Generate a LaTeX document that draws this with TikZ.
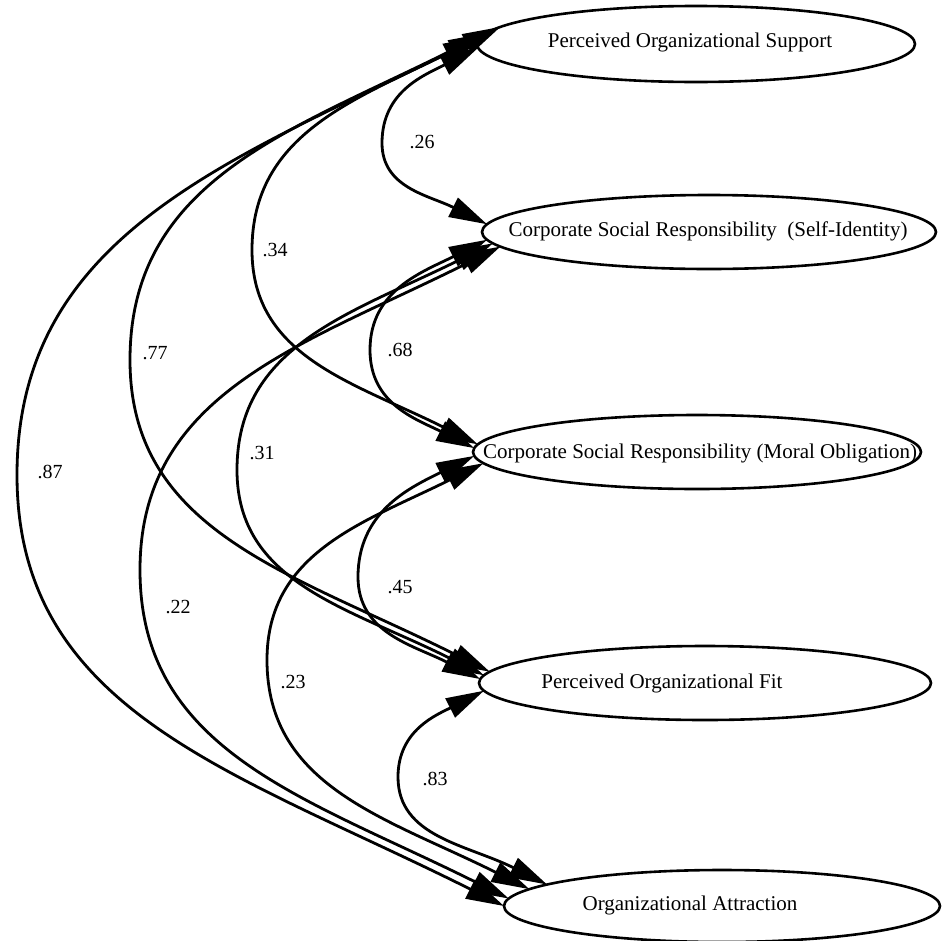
\documentclass[tikz,border=0pt]{standalone}
\usepackage{fontspec}
\setmainfont{Liberation Serif}
\usetikzlibrary{shapes.geometric,arrows.meta}
\begin{document}
\begin{tikzpicture}[x=1pt,y=-1pt,
  ell/.style={draw, ellipse, line width=2.6pt, inner sep=0pt, outer sep=0pt},
  lbl/.style={font=\fontsize{21}{25}\selectfont, inner sep=0pt},
  cov/.style={line width=2.8pt, {Triangle[length=38pt,width=21pt]}-{Triangle[length=38pt,width=21pt]}},
  coef/.style={font=\fontsize{20}{24}\selectfont, inner sep=1pt}]
\useasboundingbox (0,0) rectangle (942,940);

% latent variables
\node[ell, minimum width=438pt, minimum height=76pt] (pos) at (696,44) {};
\node[ell, minimum width=454pt, minimum height=74pt] (si)  at (709,232) {};
\node[ell, minimum width=448pt, minimum height=74pt] (mo)  at (697,452) {};
\node[ell, minimum width=452pt, minimum height=74pt] (pof) at (705,683) {};
\node[ell, minimum width=436pt, minimum height=72pt] (oa)  at (722,906) {};

% covariances
\draw[cov] (pos.181.3) .. controls +(-53,27)   and +(0,-52)  .. (382,143) .. controls +(0,45)  and +(-58,-29)  .. (si.178);
\draw[cov] (pos.178.1) .. controls +(-126,63)  and +(0,-116) .. (252,250) .. controls +(0,107) and +(-124,-62)  .. (mo.178);
\draw[cov] (pos.177)   .. controls +(-196,98)  and +(0,-180) .. (130,360) .. controls +(0,172) and +(-198,-99)  .. (pof.177);
\draw[cov] (pos.175.8) .. controls +(-262,131) and +(0,-245) .. (17,475)  .. controls +(0,237) and +(-268,-134) .. (oa.180);
\draw[cov] (si.182)    .. controls +(-64,32)   and +(0,-60)  .. (370,350) .. controls +(0,54)  and +(-58,-29)  .. (mo.179);
\draw[cov] (si.183)    .. controls +(-141,70)  and +(0,-125) .. (237,470) .. controls +(0,113) and +(-136,-68)  .. (pof.178);
\draw[cov] (si.184)    .. controls +(-198,99)  and +(0,-178) .. (140,570) .. controls +(0,181) and +(-203,-101) .. (oa.178);
\draw[cov] (mo.181.5)  .. controls +(-65,32)   and +(0,-65)  .. (358,577) .. controls +(0,56)  and +(-67,-34)   .. (pof.179);
\draw[cov] (mo.183)    .. controls +(-119,59)  and +(0,-108) .. (267,660) .. controls +(0,127) and +(-142,-71)  .. (oa.175.5);
\draw[cov] (pof.182)   .. controls +(-47,24)   and +(0,-47)  .. (398,777) .. controls +(0,60)  and +(-80,-40)   .. (oa.173.5);

% texts
\node[lbl] (tpos) at (690,42)  {Perceived Organizational Support};
\node[lbl] (tsi)  at (708,231) {Corporate Social Responsibility\ \ (Self-Identity)};
\node[lbl] (tmo)  at (700,453) {Corporate Social Responsibility (Moral Obligation)};
\node[lbl] (tpof) at (662,683) {Perceived Organizational Fit};
\node[lbl] (toa)  at (690,905) {Organizational Attraction};

% coefficients
\node[coef] (c26) at (422,142) {.26};
\node[coef] (c34) at (275,250) {.34};
\node[coef] (c68) at (400,350) {.68};
\node[coef] (c77) at (155,353) {.77};
\node[coef] (c87) at (50,472)  {.87};
\node[coef] (c31) at (262,453) {.31};
\node[coef] (c22) at (178,607) {.22};
\node[coef] (c45) at (400,587) {.45};
\node[coef] (c23) at (293,682) {.23};
\node[coef] (c83) at (435,779) {.83};
\end{tikzpicture}
\end{document}
